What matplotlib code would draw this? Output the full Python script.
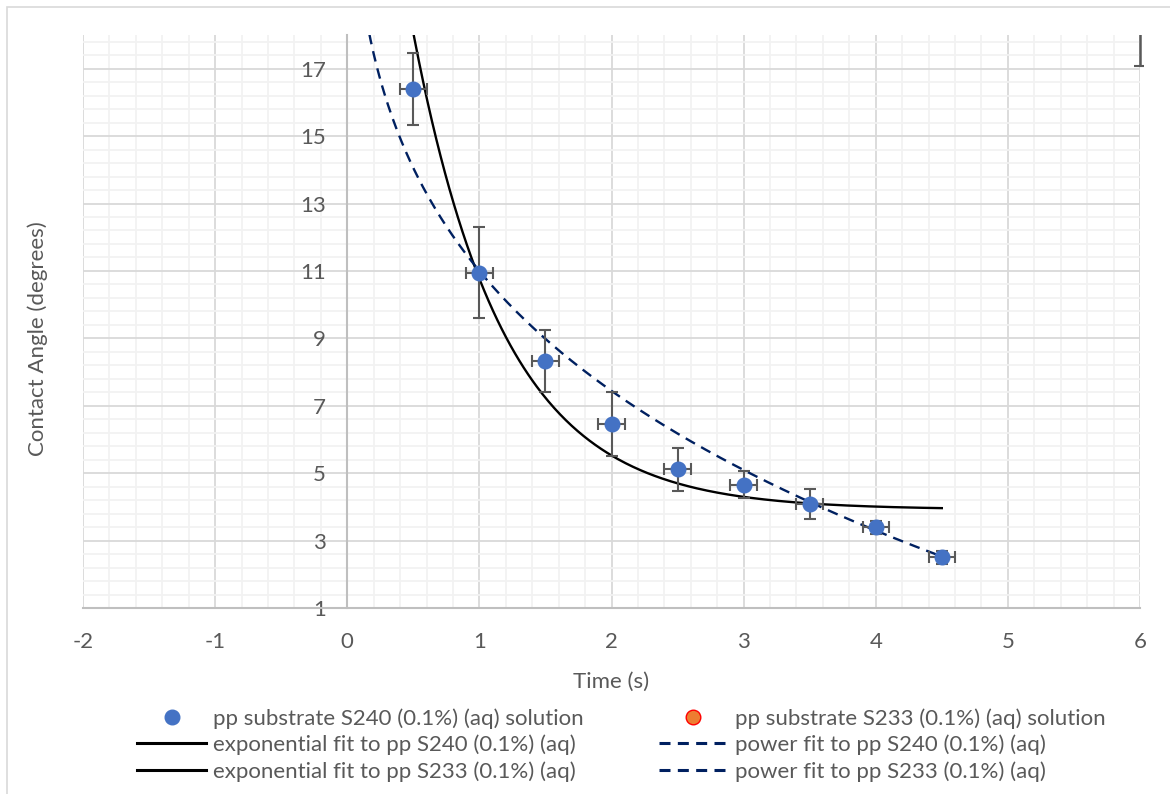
import numpy as np
import matplotlib.pyplot as plt
from matplotlib.lines import Line2D
from matplotlib.patches import Rectangle
from matplotlib.ticker import MultipleLocator, FixedLocator
from matplotlib.transforms import Bbox, TransformedBbox

plt.rcParams['font.family'] = ['Lato', 'DejaVu Sans']
plt.rcParams['axes.unicode_minus'] = False

# contact angle of pp substrate with S240 (0.1%) solution
time_s = [0.5, 1.0, 1.5, 2.0, 2.5, 3.0, 3.5, 4.0, 4.5]
angle_s240 = [16.4, 10.95, 8.32, 6.47, 5.12, 4.65, 4.08, 3.39, 2.50]
angle_err = [1.06, 1.36, 0.92, 0.95, 0.64, 0.40, 0.45, 0.20, 0.20]
time_err = 0.1

# S233 point sits at the top right corner
time_s233 = [6.0]
angle_s233 = [18.6]
angle_s233_err = [1.53]

# fitted curves: exponential a*exp(-b t) + c, power A*t^B + C
exp_a, exp_b, exp_c = 29.2, 1.45, 3.92
pow_a, pow_b, pow_c = -21.6, 0.22, 32.6

grey = '#595959'
blue = '#4472C4'
navy = '#002060'

fig = plt.figure(figsize=(11.7, 7.94), dpi=100)
W, H = 1170, 794
ax = fig.add_axes([83 / W, 1 - 608 / H, (1140 - 83) / W, (608 - 35) / H])

# light chart border
fig.patches.append(Rectangle((7 / W, -0.05), 1.1, 1.05 - 7 / H, transform=fig.transFigure,
                             fill=False, edgecolor='#D9D9D9', lw=1.2))

t = np.linspace(0.1, 4.5, 400)
ax.plot(t, exp_a * np.exp(-exp_b * t) + exp_c, color='black', lw=1.7, zorder=3)
ax.plot(t, pow_a * t ** pow_b + pow_c, color=navy, lw=1.7, ls=(0, (4.5, 3)), zorder=3)

ax.errorbar(time_s, angle_s240, yerr=angle_err, xerr=time_err, fmt='o', ms=10.5,
            color=blue, ecolor=grey, elinewidth=1.5, capsize=4.5, capthick=1.5, zorder=4)

eb = ax.errorbar(time_s233, angle_s233, yerr=angle_s233_err, xerr=time_err, fmt='o', ms=10.5,
                 mfc='#ED7D31', mec='#FF0000', ecolor=grey, elinewidth=1.8, capsize=4.5,
                 capthick=1.5, zorder=4)
clip = TransformedBbox(Bbox([[-2, 1], [6.02, 18]]), ax.transData)
for art in list(eb.lines[1]) + list(eb.lines[2]):
    art.set_clip_box(clip)

ax.set_xlim(-2, 6)
ax.set_ylim(1, 18)
ax.xaxis.set_major_locator(MultipleLocator(1))
ax.xaxis.set_minor_locator(MultipleLocator(0.2))
ax.set_yticks(np.arange(1, 18, 2))
ax.yaxis.set_minor_locator(FixedLocator(np.arange(1, 18.01, 0.4)))
ax.grid(which='major', color='#D9D9D9', lw=1.3)
ax.grid(which='minor', color='#F2F2F2', lw=1.3)
ax.set_axisbelow(True)

for s in ['top', 'right']:
    ax.spines[s].set_visible(False)
ax.spines['left'].set_position(('data', 0))
ax.spines['left'].set_color('#BFBFBF')
ax.spines['bottom'].set_color('#BFBFBF')
ax.spines['left'].set_linewidth(1.5)
ax.spines['bottom'].set_linewidth(1.5)
ax.tick_params(which='both', length=0, colors=grey, labelsize=16)
ax.tick_params(axis='y', pad=15.5)
ax.tick_params(axis='x', pad=17)

ax.set_xlabel('Time (s)', fontsize=16, color=grey)
ax.xaxis.set_label_coords(0.5, -0.112)
ax.set_ylabel('Contact Angle (degrees)', fontsize=16, color=grey)
ax.yaxis.set_label_coords(-0.033, 0.47)

handles = [
    Line2D([], [], ls='none', marker='o', ms=10.5, color=blue),
    Line2D([], [], color='black', lw=2.2),
    Line2D([], [], color='black', lw=2.2),
    Line2D([], [], ls='none', marker='o', ms=10.5, mfc='#ED7D31', mec='#FF0000'),
    Line2D([], [], color=navy, lw=2.2, ls=(0, (3.6, 2.4))),
    Line2D([], [], color=navy, lw=2.2, ls=(0, (3.6, 2.4))),
]
labels = [
    'pp substrate S240 (0.1%) (aq) solution',
    'exponential fit to pp S240 (0.1%) (aq)',
    'exponential fit to pp S233 (0.1%) (aq)',
    'pp substrate S233 (0.1%) (aq) solution',
    'power fit to pp S240 (0.1%) (aq)',
    'power fit to pp S233 (0.1%) (aq)',
]
fs = 16
px = fs * 100 / 72
fig.legend(handles, labels, ncol=2, loc='upper left', bbox_to_anchor=(137 / W, 1 - 708 / H),
           frameon=False, fontsize=fs, labelcolor=grey, borderpad=0, borderaxespad=0,
           handlelength=69 / px, handletextpad=7 / px,
           columnspacing=75 / px, labelspacing=0.265)

fig.savefig('out.png', dpi=100)
